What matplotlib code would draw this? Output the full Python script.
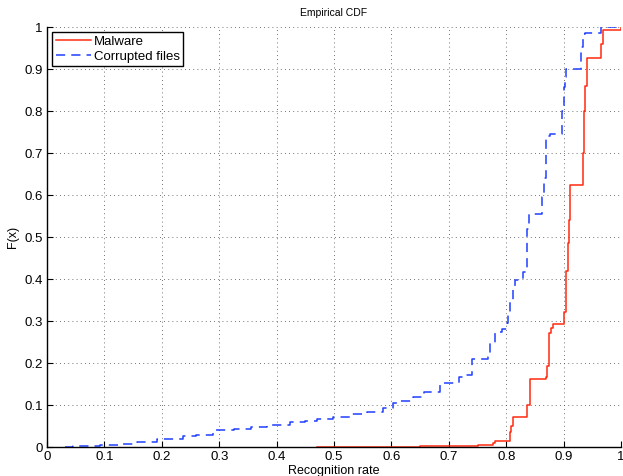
import matplotlib
matplotlib.use("Agg")
import matplotlib.pyplot as plt
import numpy as np

# Malware ECDF step points (x, F)
malware_x = [0.47, 0.55, 0.65, 0.70, 0.75, 0.777, 0.78, 0.806, 0.808, 0.811, 0.837, 0.841, 0.869, 0.871, 0.874,
             0.878, 0.881, 0.901, 0.904, 0.907, 0.909, 0.911, 0.934, 0.935, 0.937, 0.940, 0.966, 0.969, 1.0]
malware_f = [0.0, 0.001, 0.002, 0.003, 0.005, 0.010, 0.015, 0.036, 0.050, 0.072, 0.100, 0.162, 0.167, 0.194, 0.271,
             0.283, 0.293, 0.322, 0.420, 0.486, 0.540, 0.624, 0.700, 0.800, 0.860, 0.926, 0.960, 0.993, 1.0]

# Corrupted files ECDF step points (x, F)
corrupt_x = [0.031, 0.045, 0.092, 0.130, 0.156, 0.191, 0.237, 0.260, 0.290, 0.325, 0.355, 0.383, 0.423, 0.450,
             0.470, 0.499, 0.528, 0.557, 0.586, 0.603, 0.615, 0.638, 0.656, 0.685, 0.717, 0.731, 0.740, 0.768,
             0.772, 0.780, 0.792, 0.801, 0.804, 0.807, 0.811, 0.815, 0.830, 0.836, 0.840, 0.862, 0.866, 0.870,
             0.876, 0.897, 0.900, 0.903, 0.905, 0.931, 0.934, 0.937, 0.966, 0.968, 1.0]
corrupt_f = [0.0, 0.002, 0.005, 0.008, 0.013, 0.020, 0.026, 0.028, 0.040, 0.043, 0.048, 0.052, 0.060, 0.063,
             0.066, 0.072, 0.078, 0.084, 0.094, 0.104, 0.110, 0.118, 0.132, 0.153, 0.167, 0.171, 0.210, 0.215,
             0.247, 0.275, 0.282, 0.295, 0.320, 0.350, 0.382, 0.398, 0.417, 0.520, 0.555, 0.596, 0.640, 0.740,
             0.745, 0.800, 0.858, 0.880, 0.900, 0.953, 0.983, 0.985, 1.0, 1.0, 1.0]

x_ticks = [0, 0.1, 0.2, 0.3, 0.4, 0.5, 0.6, 0.7, 0.8, 0.9, 1]
y_ticks = [0, 0.1, 0.2, 0.3, 0.4, 0.5, 0.6, 0.7, 0.8, 0.9, 1]
tick_labels = ["0", "0.1", "0.2", "0.3", "0.4", "0.5", "0.6", "0.7", "0.8", "0.9", "1"]

plt.rcParams['font.family'] = ['Liberation Sans', 'DejaVu Sans']

fig = plt.figure(figsize=(6.23, 4.76), dpi=100)
ax = fig.add_axes([47/623, 1 - 447/476, (621-47)/623, (447-27)/476])

ax.plot(malware_x, malware_f, drawstyle='steps-post', color='#ff2a10', lw=1.1, label='Malware')
ax.plot(corrupt_x, corrupt_f, drawstyle='steps-post', color='#1f3fff', lw=1.1, ls=(0, (6, 4)),
        label='Corrupted files')

ax.set_xlim(0, 1)
ax.set_ylim(0, 1)
ax.set_xticks(x_ticks)
ax.set_xticklabels(tick_labels)
ax.set_yticks(y_ticks)
ax.set_yticklabels(tick_labels)
ax.tick_params(direction='in', length=4, labelsize=9.5, width=0.8, pad=3)
ax.grid(True, ls=(0, (1, 4)), color='#444444', lw=0.6)
ax.spines['top'].set_visible(False)
ax.spines['right'].set_visible(False)
ax.spines['left'].set_linewidth(1.0)
ax.spines['bottom'].set_linewidth(1.0)

ax.set_title('Empirical CDF', fontsize=7.5, pad=8)
ax.set_xlabel('Recognition rate', fontsize=9, labelpad=1)
ax.set_ylabel('F(x)', fontsize=9, labelpad=4)

leg = ax.legend(loc='upper left', fontsize=9.5, fancybox=False, framealpha=1, edgecolor='black',
                borderaxespad=0.4, handlelength=2.7, handletextpad=0.2, borderpad=0.25, labelspacing=0.2)
leg.get_frame().set_linewidth(1.0)

fig.savefig('out.png', dpi=100)
